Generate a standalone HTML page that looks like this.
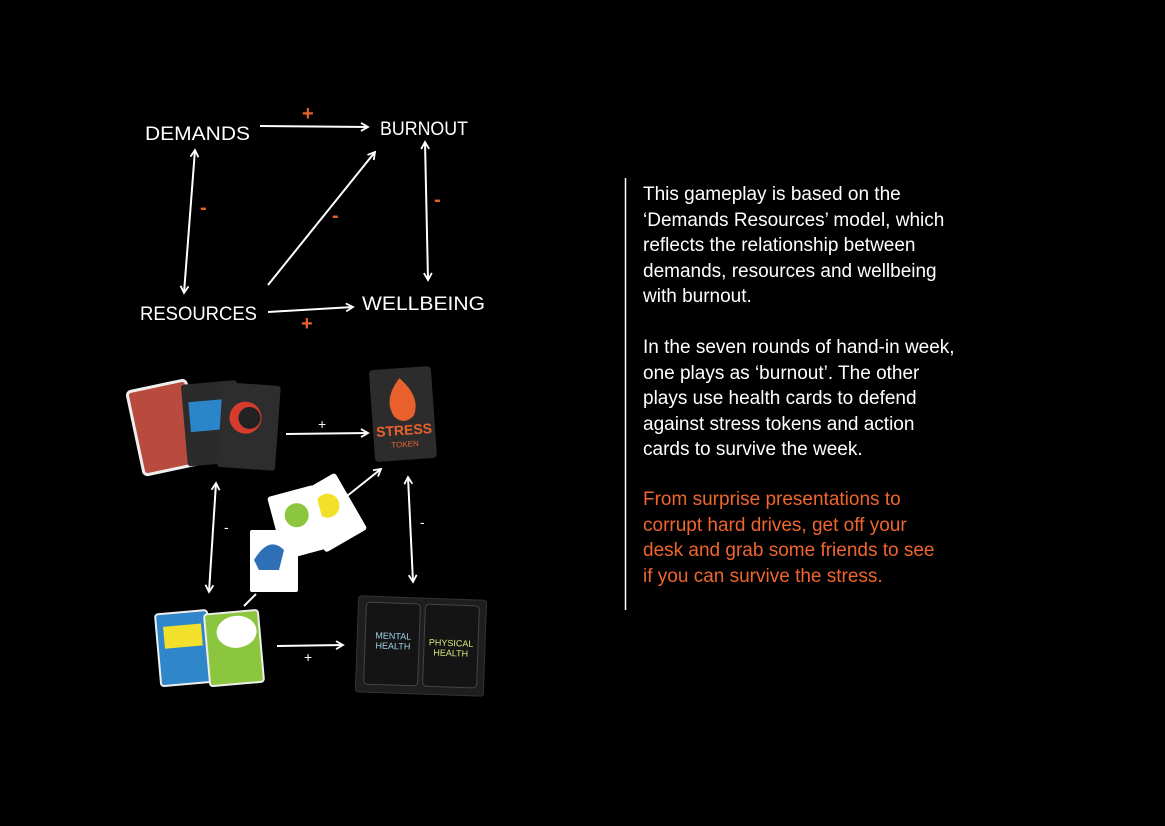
<!DOCTYPE html>
<html><head><meta charset="utf-8"><style>
html,body{margin:0;padding:0;background:#000;width:1165px;height:826px;overflow:hidden}
.t{position:absolute;left:643px;font-family:"Liberation Sans",sans-serif;font-size:19px;line-height:25.5px;color:#fff}
</style></head><body>
<svg width="1165" height="826" style="position:absolute;left:0;top:0" xmlns="http://www.w3.org/2000/svg">
<defs><marker id="a" markerWidth="10" markerHeight="10" refX="8" refY="5" orient="auto-start-reverse" markerUnits="userSpaceOnUse"><path d="M1,1 L8,5 L1,9" stroke="#fff" stroke-width="1.8" fill="none"/></marker></defs>
<g font-family="Liberation Sans, sans-serif" fill="#fff" font-size="19" lengthAdjust="spacingAndGlyphs">
<text x="145" y="140" textLength="105" lengthAdjust="spacingAndGlyphs">DEMANDS</text>
<text x="380" y="135" textLength="88" lengthAdjust="spacingAndGlyphs">BURNOUT</text>
<text x="140" y="320" textLength="117" lengthAdjust="spacingAndGlyphs">RESOURCES</text>
<text x="362" y="310" textLength="123" lengthAdjust="spacingAndGlyphs">WELLBEING</text>
</g>
<g stroke="#fff" stroke-width="2" fill="none" marker-end="url(#a)">
<line x1="260" y1="126" x2="368" y2="127"/>
<line x1="268" y1="312" x2="353" y2="307"/>
<line x1="268" y1="285" x2="375" y2="152"/>
<line x1="195" y1="150" x2="184" y2="293" marker-start="url(#a)"/>
<line x1="425" y1="142" x2="428" y2="280" marker-start="url(#a)"/>
<line x1="286" y1="434" x2="368" y2="433"/>
<line x1="342" y1="500" x2="381" y2="469"/>
<line x1="216" y1="483" x2="209" y2="592" marker-start="url(#a)"/>
<line x1="408" y1="477" x2="413" y2="582" marker-start="url(#a)"/>
<line x1="277" y1="646" x2="343" y2="645"/>
<line x1="244" y1="606" x2="256" y2="594" marker-end="none"/>
</g>
<g fill="#e8612c" font-family="Liberation Sans, sans-serif" font-size="20" font-weight="bold">
<text x="302" y="120">+</text><text x="200" y="214">-</text><text x="332" y="222">-</text>
<text x="434" y="206">-</text><text x="301" y="330">+</text>
</g>
<g fill="#fff" font-family="Liberation Sans, sans-serif" font-size="14">
<text x="318" y="429">+</text><text x="224" y="532">-</text><text x="420" y="527">-</text><text x="304" y="662">+</text>
</g>
<g transform="rotate(-12 165 428)"><rect x="135" y="385" width="60" height="85" rx="4" fill="#b94a3e" stroke="#eee" stroke-width="3"/></g>
<g transform="rotate(-5 215 420)"><rect x="184" y="382" width="56" height="82" rx="3" fill="#2b2b2b"/><rect x="190" y="400" width="40" height="30" fill="#2a86c8"/></g>
<g transform="rotate(4 250 425)"><rect x="220" y="384" width="58" height="85" rx="3" fill="#2d2d2d"/><circle cx="245" cy="418" r="16" fill="#d63c2e"/><circle cx="249" cy="418" r="11" fill="#222"/></g>
<g transform="rotate(-4 403 415)"><rect x="372" y="368" width="62" height="92" rx="4" fill="#2c2c2c"/><path d="M402 378 q-18 20 -8 38 q10 10 20 0 q8 -18 -12 -38z" fill="#e8612c"/><text x="403" y="435" fill="#e8612c" font-family="Liberation Sans,sans-serif" font-size="14" font-weight="bold" text-anchor="middle">STRESS</text><text x="403" y="447" fill="#e8612c" font-family="Liberation Sans,sans-serif" font-size="8" text-anchor="middle">TOKEN</text></g>
<g transform="rotate(-30 330 510)"><rect x="305" y="480" width="48" height="65" rx="3" fill="#fff"/><circle cx="330" cy="505" r="12" fill="#f3e02a"/></g>
<g transform="rotate(-15 298 520)"><rect x="274" y="490" width="48" height="65" rx="3" fill="#fff"/><circle cx="298" cy="515" r="12" fill="#8cc63f"/></g>
<rect x="250" y="530" width="48" height="62" rx="2" fill="#fff"/><path d="M254 560 q15 -25 30 -10 l-5 20 h-20z" fill="#2f6fb7"/>
<g transform="rotate(-5 185 648)"><rect x="158" y="612" width="52" height="72" rx="3" fill="#2f86c9" stroke="#eee" stroke-width="2"/><rect x="165" y="625" width="38" height="22" fill="#f3e02a"/></g>
<g transform="rotate(-5 235 648)"><rect x="207" y="612" width="54" height="72" rx="3" fill="#8cc63f" stroke="#eee" stroke-width="2"/><ellipse cx="238" cy="632" rx="20" ry="16" fill="#fff"/></g>
<g transform="rotate(2 420 645)"><rect x="357" y="598" width="128" height="96" rx="3" fill="#1e1e1e" stroke="#333"/><rect x="365" y="604" width="54" height="82" rx="4" fill="#141414" stroke="#444"/><rect x="424" y="604" width="54" height="82" rx="4" fill="#141414" stroke="#444"/>
<text x="393" y="640" fill="#9fd3e6" font-family="Liberation Sans,sans-serif" font-size="9" text-anchor="middle">MENTAL</text><text x="393" y="650" fill="#9fd3e6" font-family="Liberation Sans,sans-serif" font-size="9" text-anchor="middle">HEALTH</text>
<text x="451" y="645" fill="#d5ec7a" font-family="Liberation Sans,sans-serif" font-size="9" text-anchor="middle">PHYSICAL</text><text x="451" y="655" fill="#d5ec7a" font-family="Liberation Sans,sans-serif" font-size="9" text-anchor="middle">HEALTH</text></g>
<line x1="625.5" y1="178" x2="625.5" y2="610" stroke="#fff" stroke-width="1.5"/>
</svg>
<div class="t" style="top:182px">This gameplay is based on the<br>‘Demands Resources’ model, which<br>reflects the relationship between<br>demands, resources and wellbeing<br>with burnout.</div>
<div class="t" style="top:335px">In the seven rounds of hand-in week,<br>one plays as ‘burnout’. The other<br>plays use health cards to defend<br>against stress tokens and action<br>cards to survive the week.</div>
<div class="t" style="top:487px;color:#f0652e">From surprise presentations to<br>corrupt hard drives, get off your<br>desk and grab some friends to see<br>if you can survive the stress.</div>
</body></html>
